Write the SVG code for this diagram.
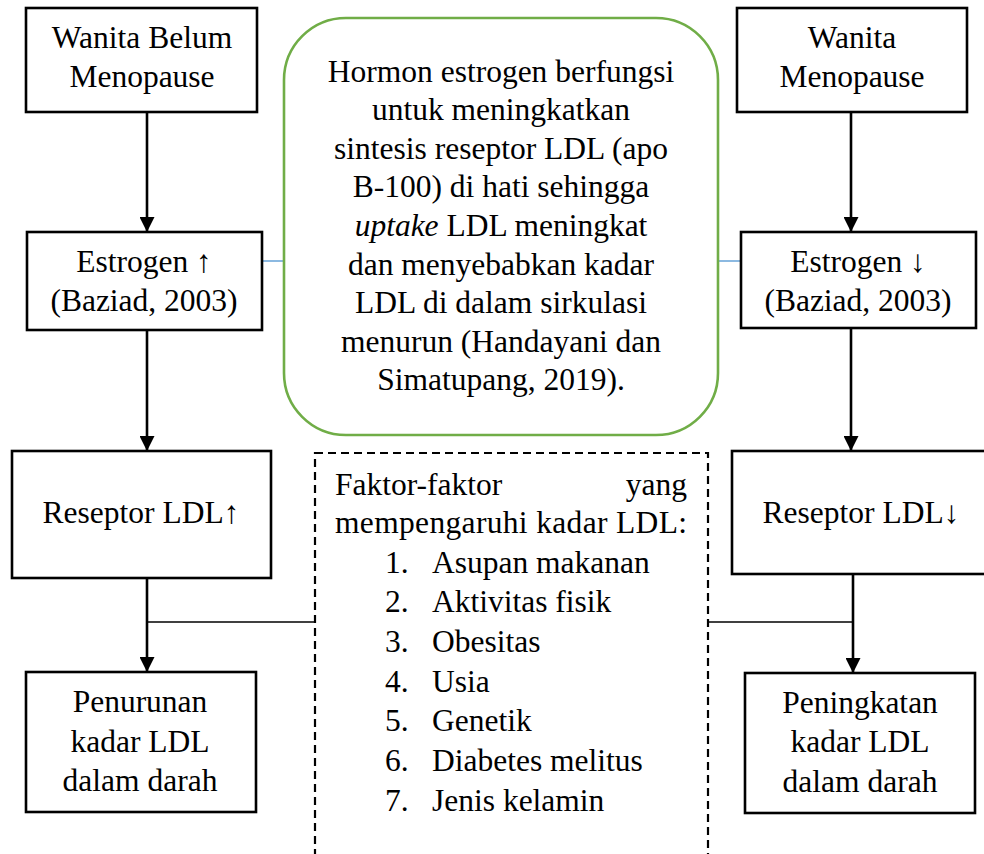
<svg xmlns="http://www.w3.org/2000/svg" width="984" height="854" viewBox="0 0 984 854">
<defs>
<style>
text{font-family:"Liberation Serif","Times New Roman",serif;font-size:31.5px;fill:#000}
.c{text-anchor:middle}
.box{fill:#fff;stroke:#000;stroke-width:2.6}
.arr{stroke:#000;stroke-width:2.6;fill:none;marker-end:url(#ah)}
.thin{stroke:#000;stroke-width:1.4;fill:none}
.blue{stroke:#5B9BD5;stroke-width:1.4;fill:none}
</style>
<marker id="ah" viewBox="0 0 10 10" refX="10" refY="5" markerUnits="userSpaceOnUse" markerWidth="15" markerHeight="15" orient="auto">
<path d="M0,0 L10,5 L0,10 Z" fill="#000"/>
</marker>
</defs>
<rect width="984" height="854" fill="#fff"/>

<g id="connectors">
<line class="arr" x1="147" y1="112" x2="147" y2="232"/>
<line class="arr" x1="147" y1="330" x2="147" y2="451"/>
<line class="arr" x1="147" y1="578" x2="147" y2="672"/>
<line class="arr" x1="851" y1="112" x2="851" y2="232"/>
<line class="arr" x1="851" y1="328" x2="851" y2="451"/>
<line class="arr" x1="853" y1="574" x2="853" y2="673"/>
<line class="thin" x1="147" y1="622" x2="315" y2="622"/>
<line class="thin" x1="708" y1="622" x2="853" y2="622"/>
<line class="blue" x1="262" y1="261" x2="284" y2="261"/>
<line class="blue" x1="718" y1="261" x2="741" y2="261"/>
</g>

<g id="wanita-belum">
<rect class="box" x="26" y="8" width="231" height="104"/>
<text class="c" x="142" y="48">Wanita Belum</text>
<text class="c" x="142" y="87">Menopause</text>
</g>

<g id="estrogen-up">
<rect class="box" x="27" y="232" width="235" height="98"/>
<text class="c" x="144" y="272">Estrogen ↑</text>
<text class="c" x="144" y="311">(Baziad, 2003)</text>
</g>

<g id="reseptor-up">
<rect class="box" x="12" y="451" width="259" height="127"/>
<text class="c" x="141" y="523">Reseptor LDL↑</text>
</g>

<g id="penurunan">
<rect class="box" x="26" y="672" width="230" height="140"/>
<text class="c" x="140" y="712">Penurunan</text>
<text class="c" x="140" y="752">kadar LDL</text>
<text class="c" x="140" y="791">dalam darah</text>
</g>

<g id="wanita-menopause">
<rect class="box" x="737" y="8" width="230" height="104"/>
<text class="c" x="852" y="48">Wanita</text>
<text class="c" x="852" y="87">Menopause</text>
</g>

<g id="estrogen-down">
<rect class="box" x="741" y="232" width="235" height="96"/>
<text class="c" x="858" y="272">Estrogen ↓</text>
<text class="c" x="858" y="311">(Baziad, 2003)</text>
</g>

<g id="reseptor-down">
<rect class="box" x="732" y="451" width="260" height="123"/>
<text class="c" x="861" y="523">Reseptor LDL↓</text>
</g>

<g id="peningkatan">
<rect class="box" x="745" y="673" width="230" height="140"/>
<text class="c" x="860" y="713">Peningkatan</text>
<text class="c" x="860" y="752">kadar LDL</text>
<text class="c" x="860" y="792">dalam darah</text>
</g>

<g id="hormon-note">
<rect x="284" y="18" width="434" height="417" rx="62" ry="62" fill="#fff" stroke="#70AD47" stroke-width="2.6"/>
<text class="c" x="501" y="82">Hormon estrogen berfungsi</text>
<text class="c" x="501" y="120">untuk meningkatkan</text>
<text class="c" x="501" y="159">sintesis reseptor LDL (apo</text>
<text class="c" x="501" y="197">B-100) di hati sehingga</text>
<text class="c" x="501" y="236"><tspan font-style="italic">uptake</tspan> LDL meningkat</text>
<text class="c" x="501" y="275">dan menyebabkan kadar</text>
<text class="c" x="501" y="313">LDL di dalam sirkulasi</text>
<text class="c" x="501" y="352">menurun (Handayani dan</text>
<text class="c" x="501" y="390">Simatupang, 2019).</text>
</g>

<g id="faktor">
<rect x="315" y="453" width="393" height="420" fill="none" stroke="#000" stroke-width="2.2" stroke-dasharray="8 5"/>
<text x="335" y="495">Faktor-faktor</text>
<text x="687" y="495" text-anchor="end">yang</text>
<text x="335" y="533" textLength="352" lengthAdjust="spacing">mempengaruhi kadar LDL:</text>
<text x="385" y="573">1.</text><text x="432" y="573">Asupan makanan</text>
<text x="385" y="612">2.</text><text x="432" y="612">Aktivitas fisik</text>
<text x="385" y="652">3.</text><text x="432" y="652">Obesitas</text>
<text x="385" y="692">4.</text><text x="432" y="692">Usia</text>
<text x="385" y="731">5.</text><text x="432" y="731">Genetik</text>
<text x="385" y="771">6.</text><text x="432" y="771">Diabetes melitus</text>
<text x="385" y="811">7.</text><text x="432" y="811">Jenis kelamin</text>
</g>
</svg>
